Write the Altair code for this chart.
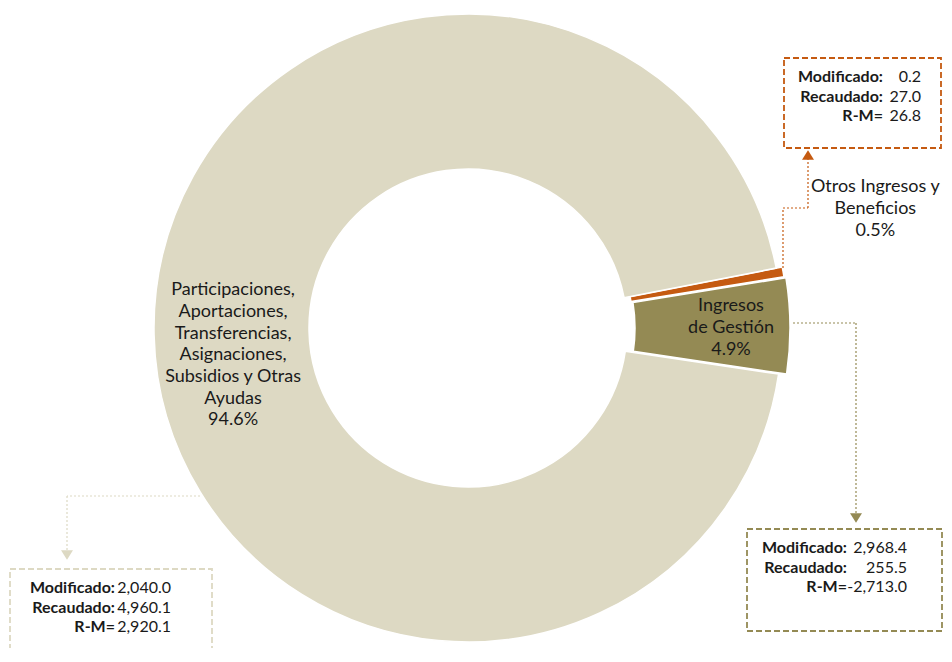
import math
import altair as alt
import pandas as pd

# ---------------- data ----------------
categories = [
    "Otros Ingresos y Beneficios",
    "Ingresos de Gestión",
    "Participaciones, Aportaciones, Transferencias, Asignaciones, Subsidios y Otras Ayudas",
]
shares = [0.5, 4.9, 94.6]
modificado = [0.2, 2968.4, 2040.0]
recaudado = [27.0, 255.5, 4960.1]
r_menos_m = [26.8, -2713.0, 2920.1]
label_lines = [
    ["Otros Ingresos y", "Beneficios"],
    ["Ingresos", "de Gestión"],
    ["Participaciones,", "Aportaciones,", "Transferencias,", "Asignaciones,", "Subsidios y Otras", "Ayudas"],
]
row_names = ["Modificado:", "Recaudado:", "R-M="]

# ---------------- styles / layout ----------------
slice_colors = ["#C55A11", "#948A54", "#DDD9C3"]
START = math.radians(79)
OUTER_R, INNER_R = 314, 159
FONT = "Lato"
TXT = "#1a1a1a"
LABEL_FS = 18
LABEL_LH = 21.7

explode = {0: (6, -1), 1: (8, 0), 2: (0, 0)}
# radius, dx, dy (dy positions the first line of the block)
label_pos = {0: (432, -18, -65), 1: (263, 0, -20), 2: (236, 1, -43)}
boxes = {0: (776, 933, 50, 140), 1: (739, 934, 521, 623), 2: (2, 204, 561, 665)}
# label right x, value right x, first row y, font size
text_anchor = {0: (875, 913, 69, 16), 1: (839, 899, 540, 16), 2: (107, 163, 580, 16)}
ROW_STEP = 19.5
connectors = {
    0: [(775, 260), (775, 200), (800, 200), (800, 146)],
    1: [(785, 315), (848, 315), (848, 507)],
    2: [(192, 488), (59, 488), (59, 544)],
}
heads = {0: (800, 147, "up"), 1: (848, 510, "down"), 2: (59, 547, "down")}
PATH_DOWN = "M-1,-0.8L1,-0.8L0,0.8Z"
PATH_UP = "M-1,0.8L1,0.8L0,-0.8Z"

# ---------------- tables ----------------
df = pd.DataFrame({
    "cat": categories,
    "share": shares,
    "order": list(range(len(categories))),
    "label": ["\n".join(l + [f"{s}%"]) for l, s in zip(label_lines, shares)],
})

rows = []
for i, c in enumerate(categories):
    lx, vx, y0, fs = text_anchor[i]
    for j, (n, v) in enumerate(zip(row_names, [modificado[i], recaudado[i], r_menos_m[i]])):
        rows.append({"cat": c, "name": n, "value": v, "lx": lx, "vx": vx,
                     "y": y0 + j * ROW_STEP, "fs": fs})
rows_df = pd.DataFrame(rows)

box_df = pd.DataFrame([
    {"cat": categories[i], "x": b[0], "x2": b[1], "y": b[2], "y2": b[3]} for i, b in boxes.items()
])

segs = []
for i, pts in connectors.items():
    for (x1, y1), (x2, y2) in zip(pts[:-1], pts[1:]):
        segs.append({"cat": categories[i], "x": x1, "y": y1, "x2": x2, "y2": y2})
seg_df = pd.DataFrame(segs)

head_df = pd.DataFrame([
    {"cat": categories[i], "x": h[0], "y": h[1], "dir": h[2]} for i, h in heads.items()
])

# ---------------- scales ----------------
theta_scale = alt.Scale(domain=[0, 100], range=[START, START + 2 * math.pi])
color_scale = alt.Scale(domain=categories, range=slice_colors)

base = alt.Chart(df).transform_stack(
    stack="share", as_=["start", "end"], groupby=[],
    sort=[alt.SortField("order", order="ascending")],
).transform_calculate(mid="(datum.start + datum.end) / 2")

layers = []
for i, c in enumerate(categories):
    ox, oy = explode[i]
    layers.append(
        base.transform_filter(alt.datum.cat == c)
        .mark_arc(radius=OUTER_R, radius2=INNER_R, xOffset=ox, yOffset=oy,
                  stroke="white", strokeWidth=1.5)
        .encode(
            theta=alt.Theta("start:Q", scale=theta_scale, stack=None),
            theta2="end:Q",
            color=alt.Color("cat:N", scale=color_scale, legend=None),
        )
    )

for i, c in enumerate(categories):
    r, dx, dy = label_pos[i]
    layers.append(
        base.transform_filter(alt.datum.cat == c)
        .mark_text(radius=r, dx=dx, dy=dy, lineBreak="\n", font=FONT, fontSize=LABEL_FS,
                   lineHeight=LABEL_LH, color=TXT, align="center", baseline="middle")
        .encode(theta=alt.Theta("mid:Q", scale=theta_scale, stack=None), text="label:N")
    )

layers.append(
    alt.Chart(box_df).mark_rect(fillOpacity=0, strokeWidth=1.8, strokeDash=[6, 3]).encode(
        x=alt.X("x:Q", scale=None), x2="x2:Q",
        y=alt.Y("y:Q", scale=None), y2="y2:Q",
        stroke=alt.Stroke("cat:N", scale=color_scale, legend=None),
    )
)
layers.append(
    alt.Chart(seg_df).mark_rule(strokeWidth=1.2, strokeDash=[2, 2]).encode(
        x=alt.X("x:Q", scale=None), x2="x2:Q",
        y=alt.Y("y:Q", scale=None), y2="y2:Q",
        stroke=alt.Stroke("cat:N", scale=color_scale, legend=None),
    )
)
layers.append(
    alt.Chart(head_df).mark_point(filled=True, size=144, opacity=1, strokeWidth=0).encode(
        x=alt.X("x:Q", scale=None),
        y=alt.Y("y:Q", scale=None),
        shape=alt.Shape("dir:N", scale=alt.Scale(domain=["down", "up"], range=[PATH_DOWN, PATH_UP]), legend=None),
        color=alt.Color("cat:N", scale=color_scale, legend=None),
    )
)
layers.append(
    alt.Chart(rows_df).mark_text(font=FONT, fontWeight="bold", align="right",
                                 baseline="middle", color=TXT).encode(
        x=alt.X("lx:Q", scale=None), y=alt.Y("y:Q", scale=None), text="name:N",
        size=alt.Size("fs:Q", scale=None),
    )
)
layers.append(
    alt.Chart(rows_df).transform_calculate(
        vt="replace(format(datum.value, ',.1f'), '\u2212', '-')"
    ).mark_text(font=FONT, align="right", baseline="middle", color=TXT).encode(
        x=alt.X("vx:Q", scale=None), y=alt.Y("y:Q", scale=None), text="vt:N",
        size=alt.Size("fs:Q", scale=None),
    )
)

chart = alt.layer(*layers).properties(
    width=920, height=640,
    autosize=alt.AutoSizeParams(type="none"),
    padding={"left": 0, "top": 0, "right": 16, "bottom": 0},
).configure_view(stroke=None)

chart.save("out.html", embed_options={"renderer": "svg", "actions": False})
